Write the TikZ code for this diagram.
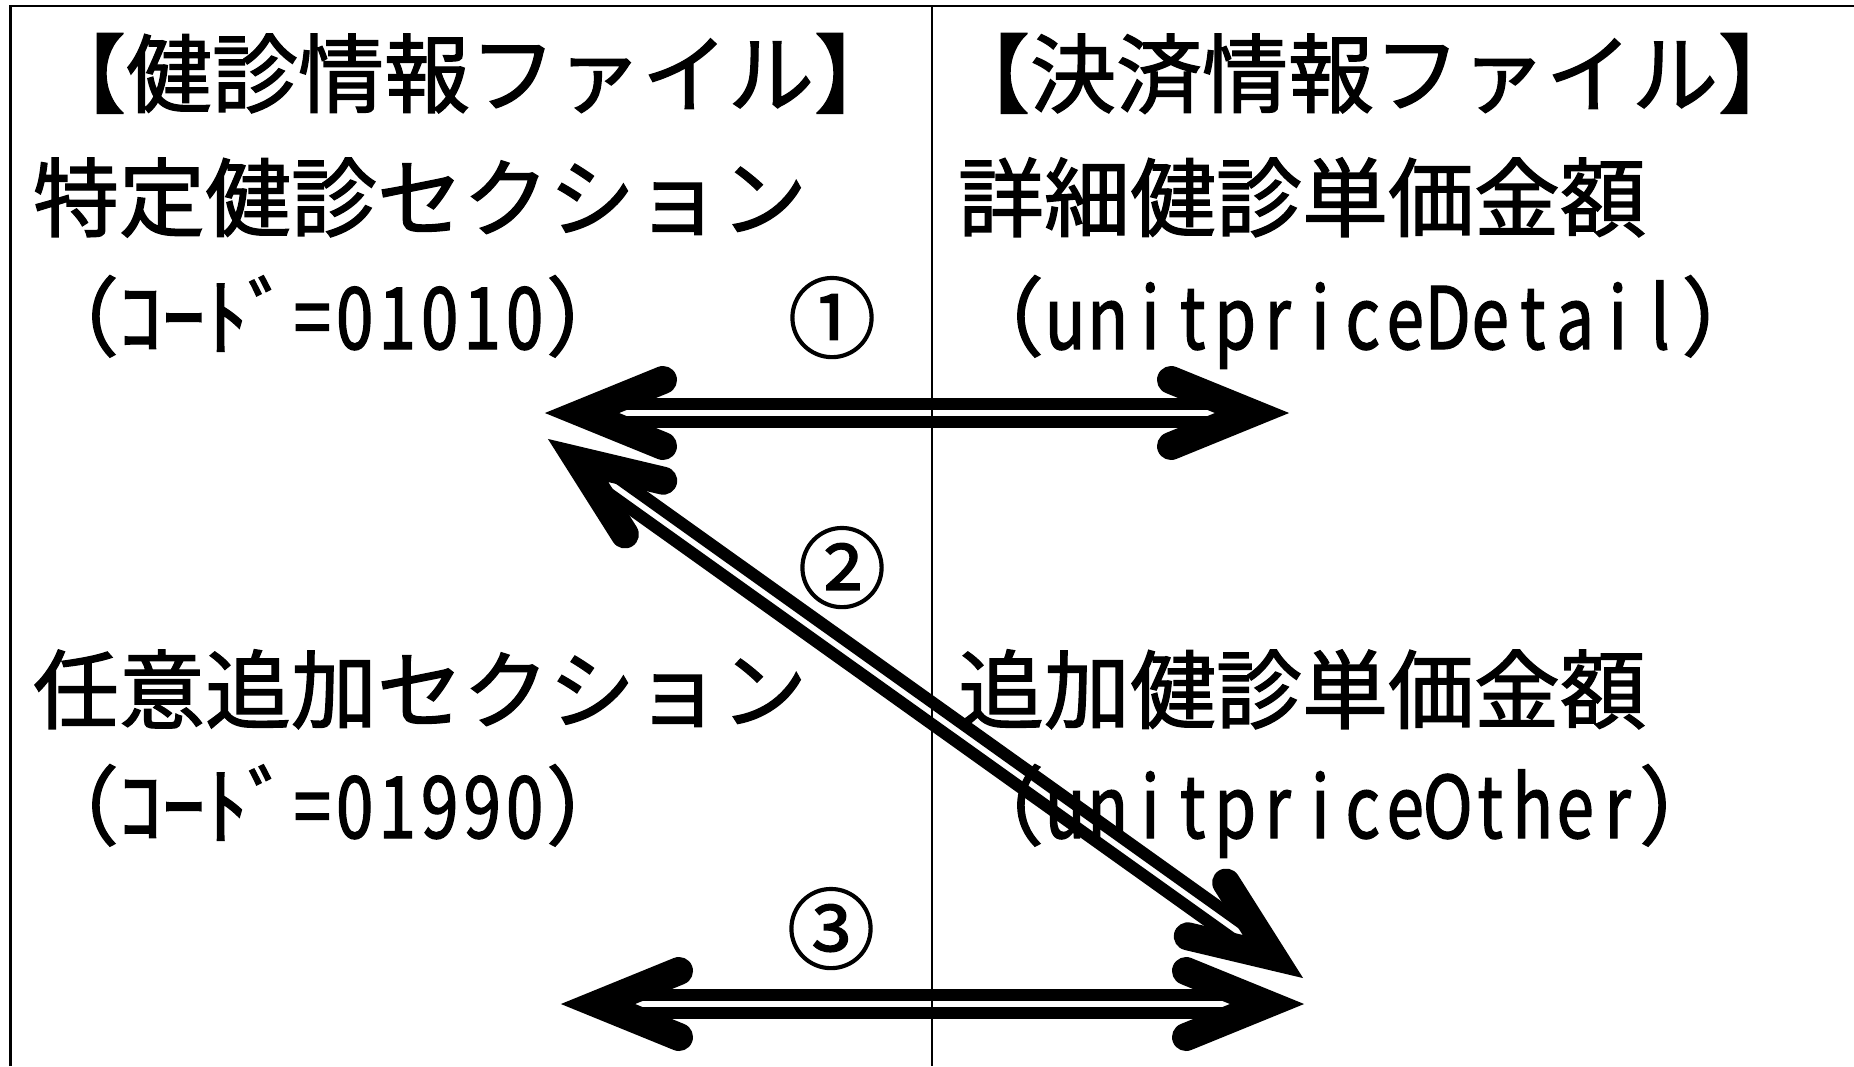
\documentclass[tikz,border=0pt]{standalone}
\usepackage{fontspec}
\setmainfont{Noto Sans CJK JP}[FakeBold=1.5]
\newfontfamily\latf[FakeStretch=0.78,FakeBold=1.5]{Noto Sans CJK JP}
\usetikzlibrary{calc}
\ExplSyntaxOn
\NewDocumentCommand\hw{m}{{\latf\tl_map_inline:nn{#1}{\makebox[42.5pt]{##1}}}}
\ExplSyntaxOff
\tikzset{
  txt/.style={inner sep=0pt, outer sep=0pt, anchor=base west, font=\fontsize{86pt}{86pt}\selectfont},
  num/.style={inner sep=0pt, outer sep=0pt, anchor=base, font=\fontsize{88pt}{88pt}\selectfont},
  arm/.style={line width=28pt, line cap=round, line join=miter},
  band/.style={line width=12pt},
  frameline/.style={line width=2.5pt},
  divider/.style={line width=1.6pt}
}
\newcommand\arrowhead[3]{% tip #1, toward #2, prefix #3
  \coordinate (#3b) at ($(#1)!118pt!(#2)$);
  \coordinate (#3v) at ($(#1)!37pt!(#2)$);
  \draw[arm] ($(#3b)!33pt!90:(#2)$) -- (#3v) -- ($(#3b)!33pt!-90:(#2)$);
}
\newcommand\dblarrow[3]{% from #1 to #2, prefix #3
  \coordinate (#3s) at ($(#1)!60pt!(#2)$);
  \coordinate (#3e) at ($(#2)!60pt!(#1)$);
  \draw[band] ($(#3s)!9pt!90:(#3e)$) -- ($(#3e)!9pt!-90:(#3s)$);
  \draw[band] ($(#3s)!9pt!-90:(#3e)$) -- ($(#3e)!9pt!90:(#3s)$);
  \arrowhead{#1}{#2}{#3L}
  \arrowhead{#2}{#1}{#3R}
}
\begin{document}
\begin{tikzpicture}[x=1pt, y=-1pt]
\useasboundingbox (0,0) rectangle (1854,1066);
% frame
\coordinate (fbl) at (10.5,1066);
\coordinate (ftl) at (10.5,6);
\coordinate (ftr) at (1854,6);
\draw[frameline] (fbl) -- (ftl) -- (ftr);
\coordinate (dtop) at (932,6);
\coordinate (dbot) at (932,1066);
\draw[divider] (dtop) -- (dbot);
% texts
\node[txt] (h1) at (40,106) {【健診情報ファイル】};
\node[txt] (h2) at (944,106) {【決済情報ファイル】};
\node[txt] (l2) at (33,230) {特定健診セクション};
\node[txt] (r2) at (958,230) {詳細健診単価金額};
\node[txt] (l3) at (33,349) {（ｺｰﾄﾞ\hw{=01010}）};
\node[txt] (r3) at (958,349) {（\hw{unitpriceDetail}）};
\node[txt] (l4) at (33,722) {任意追加セクション};
\node[txt] (r4) at (958,722) {追加健診単価金額};
\node[txt] (l5) at (33,838) {（ｺｰﾄﾞ\hw{=01990}）};
\node[txt] (r5) at (958,838) {（\hw{unitpriceOther}）};
\node[num] (n1) at (832,351) {①};
\node[num] (n2) at (842,601) {②};
\node[num] (n3) at (831,962) {③};
% arrows
\coordinate (a1L) at (545,413);
\coordinate (a1R) at (1289,413);
\coordinate (a2L) at (548,439);
\coordinate (a2R) at (1303,978);
\coordinate (a3L) at (561,1004);
\coordinate (a3R) at (1304,1004);
\dblarrow{a1L}{a1R}{x1}
\dblarrow{a2L}{a2R}{x2}
\dblarrow{a3L}{a3R}{x3}
\end{tikzpicture}
\end{document}
